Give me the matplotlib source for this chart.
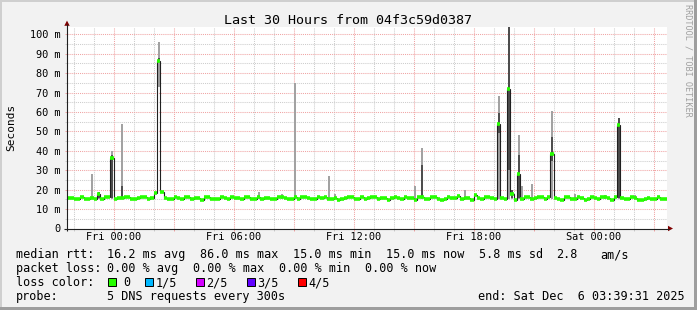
import matplotlib
matplotlib.use("Agg")
import matplotlib.pyplot as plt
from matplotlib.patches import Rectangle, Polygon
import numpy as np

plt.rcParams['font.family'] = ['DejaVu Sans Mono', 'DejaVu Sans']

W, H, DPI = 697, 310, 100

# ---------------- data ----------------
title = "Last 30 Hours from 04f3c59d0387"
y_label = "Seconds"
watermark = "RRDTOOL / TOBI OETIKER"
hours_total = 30
step_minutes = 10
first_label_offset_h = 2 + 20 / 60 + 29 / 3600   # Thu 21:39:31 -> Fri 00:00
x_tick_labels = ["Fri 00:00", "Fri 06:00", "Fri 12:00", "Fri 18:00", "Sat 00:00"]
y_ticks = [0, 10, 20, 30, 40, 50, 60, 70, 80, 90, 100]
y_tick_labels = ["0", "10 m", "20 m", "30 m", "40 m", "50 m", "60 m", "70 m", "80 m", "90 m", "100 m"]

# median rtt (ms), one value per 10 minute step
median = [
    15.9, 15.9, 15.3, 15.4, 16.2, 15.0, 15.1, 15.8, 15.4, 18.0,
    15.2, 16.1, 16.0, 36.5, 15.1, 15.5, 15.6, 16.3, 16.2, 15.2,
    15.0, 15.6, 16.3, 16.2, 15.4, 15.9, 18.5, 86.0, 19.0, 15.6,
    15.0, 15.1, 16.0, 15.9, 15.3, 16.4, 16.3, 15.2, 15.6, 15.6,
    14.9, 16.1, 16.2, 15.4, 15.4, 15.1, 16.0, 15.9, 15.0, 16.3,
    15.7, 15.6, 15.0, 16.0, 16.1, 15.4, 15.3, 16.3, 15.2, 15.8,
    15.9, 15.3, 15.2, 16.0, 16.4, 15.6, 15.0, 15.1, 16.1, 15.4,
    16.2, 16.1, 15.5, 15.0, 15.1, 16.0, 15.7, 16.3, 15.2, 15.3,
    15.9, 14.9, 15.0, 15.8, 16.2, 16.1, 15.3, 15.4, 16.1, 15.0,
    15.7, 16.3, 16.2, 15.1, 15.9, 15.8, 14.9, 15.6, 16.3, 15.6,
    15.2, 16.0, 15.9, 15.8, 14.9, 16.3, 16.2, 15.4, 15.1, 16.1,
    16.0, 15.4, 14.9, 15.0, 16.4, 15.5, 15.8, 16.6, 15.1, 15.7,
    15.6, 14.9, 17.3, 15.8, 15.1, 16.3, 16.2, 15.7, 15.2, 53.7,
    15.8, 15.0, 71.7, 17.8, 14.8, 27.9, 15.4, 16.1, 16.0, 15.3,
    15.5, 16.3, 16.1, 15.1, 16.1, 38.2, 15.7, 15.4, 14.9, 16.1,
    16.0, 15.1, 15.2, 16.3, 15.8, 14.9, 15.0, 16.0, 15.7, 15.1,
    16.3, 16.2, 15.5, 14.9, 16.1, 53.2, 15.7, 15.4, 15.1, 16.0,
    15.5, 14.7, 14.8, 15.3, 15.8, 15.1, 15.4, 16.0, 15.2, 15.0,
]

# smoke (ping spread) where it shows above the median line
smoke_step = [7, 9, 13, 16, 27, 57, 64, 68, 78, 80, 104, 106, 119, 129, 132, 133, 135, 136, 139, 145, 152, 161, 165, 170]
smoke_low = [15, 15, 15, 15, 73, 15, 15, 15, 15, 15, 15, 15, 15, 15, 15, 15, 15, 15, 15, 15, 15, 15, 15, 15]
smoke_light = [28.0, 18.8, 40.0, 54.0, 96.0, 19.0, 17.8, 75.0, 27.0, 17.8, 22.0, 41.3, 19.8, 68.3, 103.9, 20.0, 48.0, 22.0, 23.0, 60.7, 18.0, 17.5, 57.0, 17.0]
smoke_dark_low = [15.5, 15.5, 15.5, 15.5, 86.0, 15.5, 15.5, 15.5, 15.5, 15.5, 15.5, 15.5, 15.5, 49.0, 30.0, 15.5, 15.5, 15.5, 15.5, 35.0, 15.5, 15.5, 15.5, 15.5]
smoke_dark = [15.6, 18.8, 38.0, 22.0, 88.0, 15.5, 15.5, 15.6, 15.5, 15.6, 15.6, 32.7, 15.6, 59.5, 103.9, 20.0, 38.0, 15.5, 15.6, 47.0, 15.5, 15.5, 57.0, 15.5]

legend_rows = [
    ["median rtt:", "16.2 ms avg", "86.0 ms max", "15.0 ms min", "15.0 ms now", "5.8 ms sd", "2.8", "am/s"],
    ["packet loss:", "0.00 % avg", "0.00 % max", "0.00 % min", "0.00 % now"],
]
loss_labels = ["0", "1/5", "2/5", "3/5", "4/5"]
loss_colors = ["#26ff00", "#00b8ff", "#d400ff", "#6000ff", "#ff0000"]
probe_text = "5 DNS requests every 300s"
end_text = "end: Sat Dec  6 03:39:31 2025"

# ---------------- style ----------------
BACK = "#f2f2f2"
GRID = "#cdcdcd"
MGRID = "#f0a4a4"
ARROW = "#7f0000"
AXIS = "#202020"
SMOKE_LIGHT = "#a2a2a2"
SMOKE_DARK = "#4e4e4e"

fig = plt.figure(figsize=(W / DPI, H / DPI), dpi=DPI, facecolor=BACK)

PL, PR, PB, PT = 67, 667, 228.5, 27
ax = fig.add_axes([PL / W, 1 - PB / H, (PR - PL) / W, (PB - PT) / H])
ax.set_facecolor("white")
ymax = (PB - PT) / 1.942
ax.set_xlim(0, hours_total)
ax.set_ylim(0, ymax)
for s in ax.spines.values():
    s.set_visible(False)

step_h = step_minutes / 60
edges = np.arange(len(median) + 1) * step_h

# smoke
sx = (np.array(smoke_step) + 0.5) * step_h
lo = np.array(smoke_low)
li = np.array(smoke_light)
dl = np.array(smoke_dark_low)
dk = np.array(smoke_dark)
ax.bar(sx, li - lo, bottom=lo, width=step_h * 0.6, color=SMOKE_LIGHT, linewidth=0, zorder=2)
ax.bar(sx, np.maximum(dk - dl, 0), bottom=dl, width=step_h * 0.6, color=SMOKE_DARK, linewidth=0, zorder=2.1)

# median
ax.stairs(median, edges, baseline=None, color="#202020", linewidth=0.8, zorder=3)
ax.hlines(median, edges[:-1], edges[1:], colors=loss_colors[0], linewidth=2.6, zorder=4)

# grid / ticks
off = first_label_offset_h
xmaj = [off + 3 * k for k in range(10) if off + 3 * k <= hours_total]
xmin = [off - 2 + k for k in range(32) if 0 <= off - 2 + k <= hours_total]
xlabels = [x_tick_labels[k // 2] if k % 2 == 0 else "" for k in range(len(xmaj))]
ax.set_xticks(xmaj, labels=xlabels)
ax.set_xticks(xmin, minor=True)
ax.set_yticks(y_ticks, labels=y_tick_labels)
ax.set_yticks([v + 5 for v in y_ticks[:-1]], minor=True)

ax.grid(which="major", color=MGRID, linestyle=(0, (1, 1)), linewidth=0.75, zorder=1)
ax.grid(which="minor", color=GRID, linestyle=(0, (1, 1)), linewidth=0.75, zorder=1)
ax.set_axisbelow(True)
ax.tick_params(which="major", direction="out", length=1.6, width=0.72, color=MGRID, labelsize=7.4)
ax.tick_params(which="minor", direction="out", length=1.6, width=0.72, color=GRID)
ax.tick_params(axis="x", which="major", pad=0.6)
ax.tick_params(axis="y", which="major", pad=3.2)

# overlay in pixel coordinates for frame, axes arrows and legend
ov = fig.add_axes([0, 0, 1, 1], zorder=5)
ov.set_xlim(0, W)
ov.set_ylim(H, 0)
ov.axis("off")

# 3d-ish frame
ov.add_patch(Rectangle((0, 0), W, 2, color="#cfcfcf", lw=0))
ov.add_patch(Rectangle((0, 0), 2, H, color="#cfcfcf", lw=0))
ov.add_patch(Rectangle((0, H - 3), W, 3, color="#9e9e9e", lw=0))
ov.add_patch(Rectangle((W - 3, 0), 3, H, color="#9e9e9e", lw=0))

# axes lines + arrows
ov.plot([64, 669], [228.5, 228.5], color=AXIS, lw=0.8, solid_capstyle="butt")
ov.plot([67, 67], [231, 24], color=AXIS, lw=0.8, solid_capstyle="butt")
ov.add_patch(Polygon([[64.3, 25.8], [69.7, 25.8], [67, 20.6]], closed=True, color=ARROW, lw=0))
ov.add_patch(Polygon([[668, 225.8], [668, 231.2], [673, 228.5]], closed=True, color=ARROW, lw=0))

# title, unit, watermark
ov.text(W / 2, 24, title, ha="center", va="baseline", fontsize=9.6, color="black")
ov.text(11, 127, y_label, ha="center", va="center", rotation=90, fontsize=8.0, color="black")
ov.text(688, 4, watermark, ha="center", va="top", rotation=270, fontsize=6.1, color="#a0a0a0")

# legend
LF = 8.5
row1_x = [16, 107.3, 200, 293.3, 386, 479.3, 556, 600]
row2_x = [16, 107.3, 193.3, 279.3, 365]
for txt, x in zip(legend_rows[0], row1_x):
    ov.text(x, 258, txt, ha="left", va="baseline", fontsize=LF)
for txt, x in zip(legend_rows[1], row2_x):
    ov.text(x, 272, txt, ha="left", va="baseline", fontsize=LF)
ov.text(16, 286, "loss color:", ha="left", va="baseline", fontsize=LF)
box_x = [108.3, 145.3, 196, 246.7, 297.7]
lab_x = [123.3, 155.7, 205.7, 256.7, 308.3]
for c, lab, bx, lx in zip(loss_colors, loss_labels, box_x, lab_x):
    ov.add_patch(Rectangle((bx, 278.3), 8, 8, facecolor=c, edgecolor="black", lw=0.7))
    ov.text(lx, 286, lab, ha="left", va="baseline", fontsize=LF)
ov.text(16, 300, "probe:", ha="left", va="baseline", fontsize=LF)
ov.text(107.3, 300, probe_text, ha="left", va="baseline", fontsize=LF)
ov.text(478.3, 300, end_text, ha="left", va="baseline", fontsize=LF)

fig.savefig("out.png", dpi=DPI, facecolor=BACK)
